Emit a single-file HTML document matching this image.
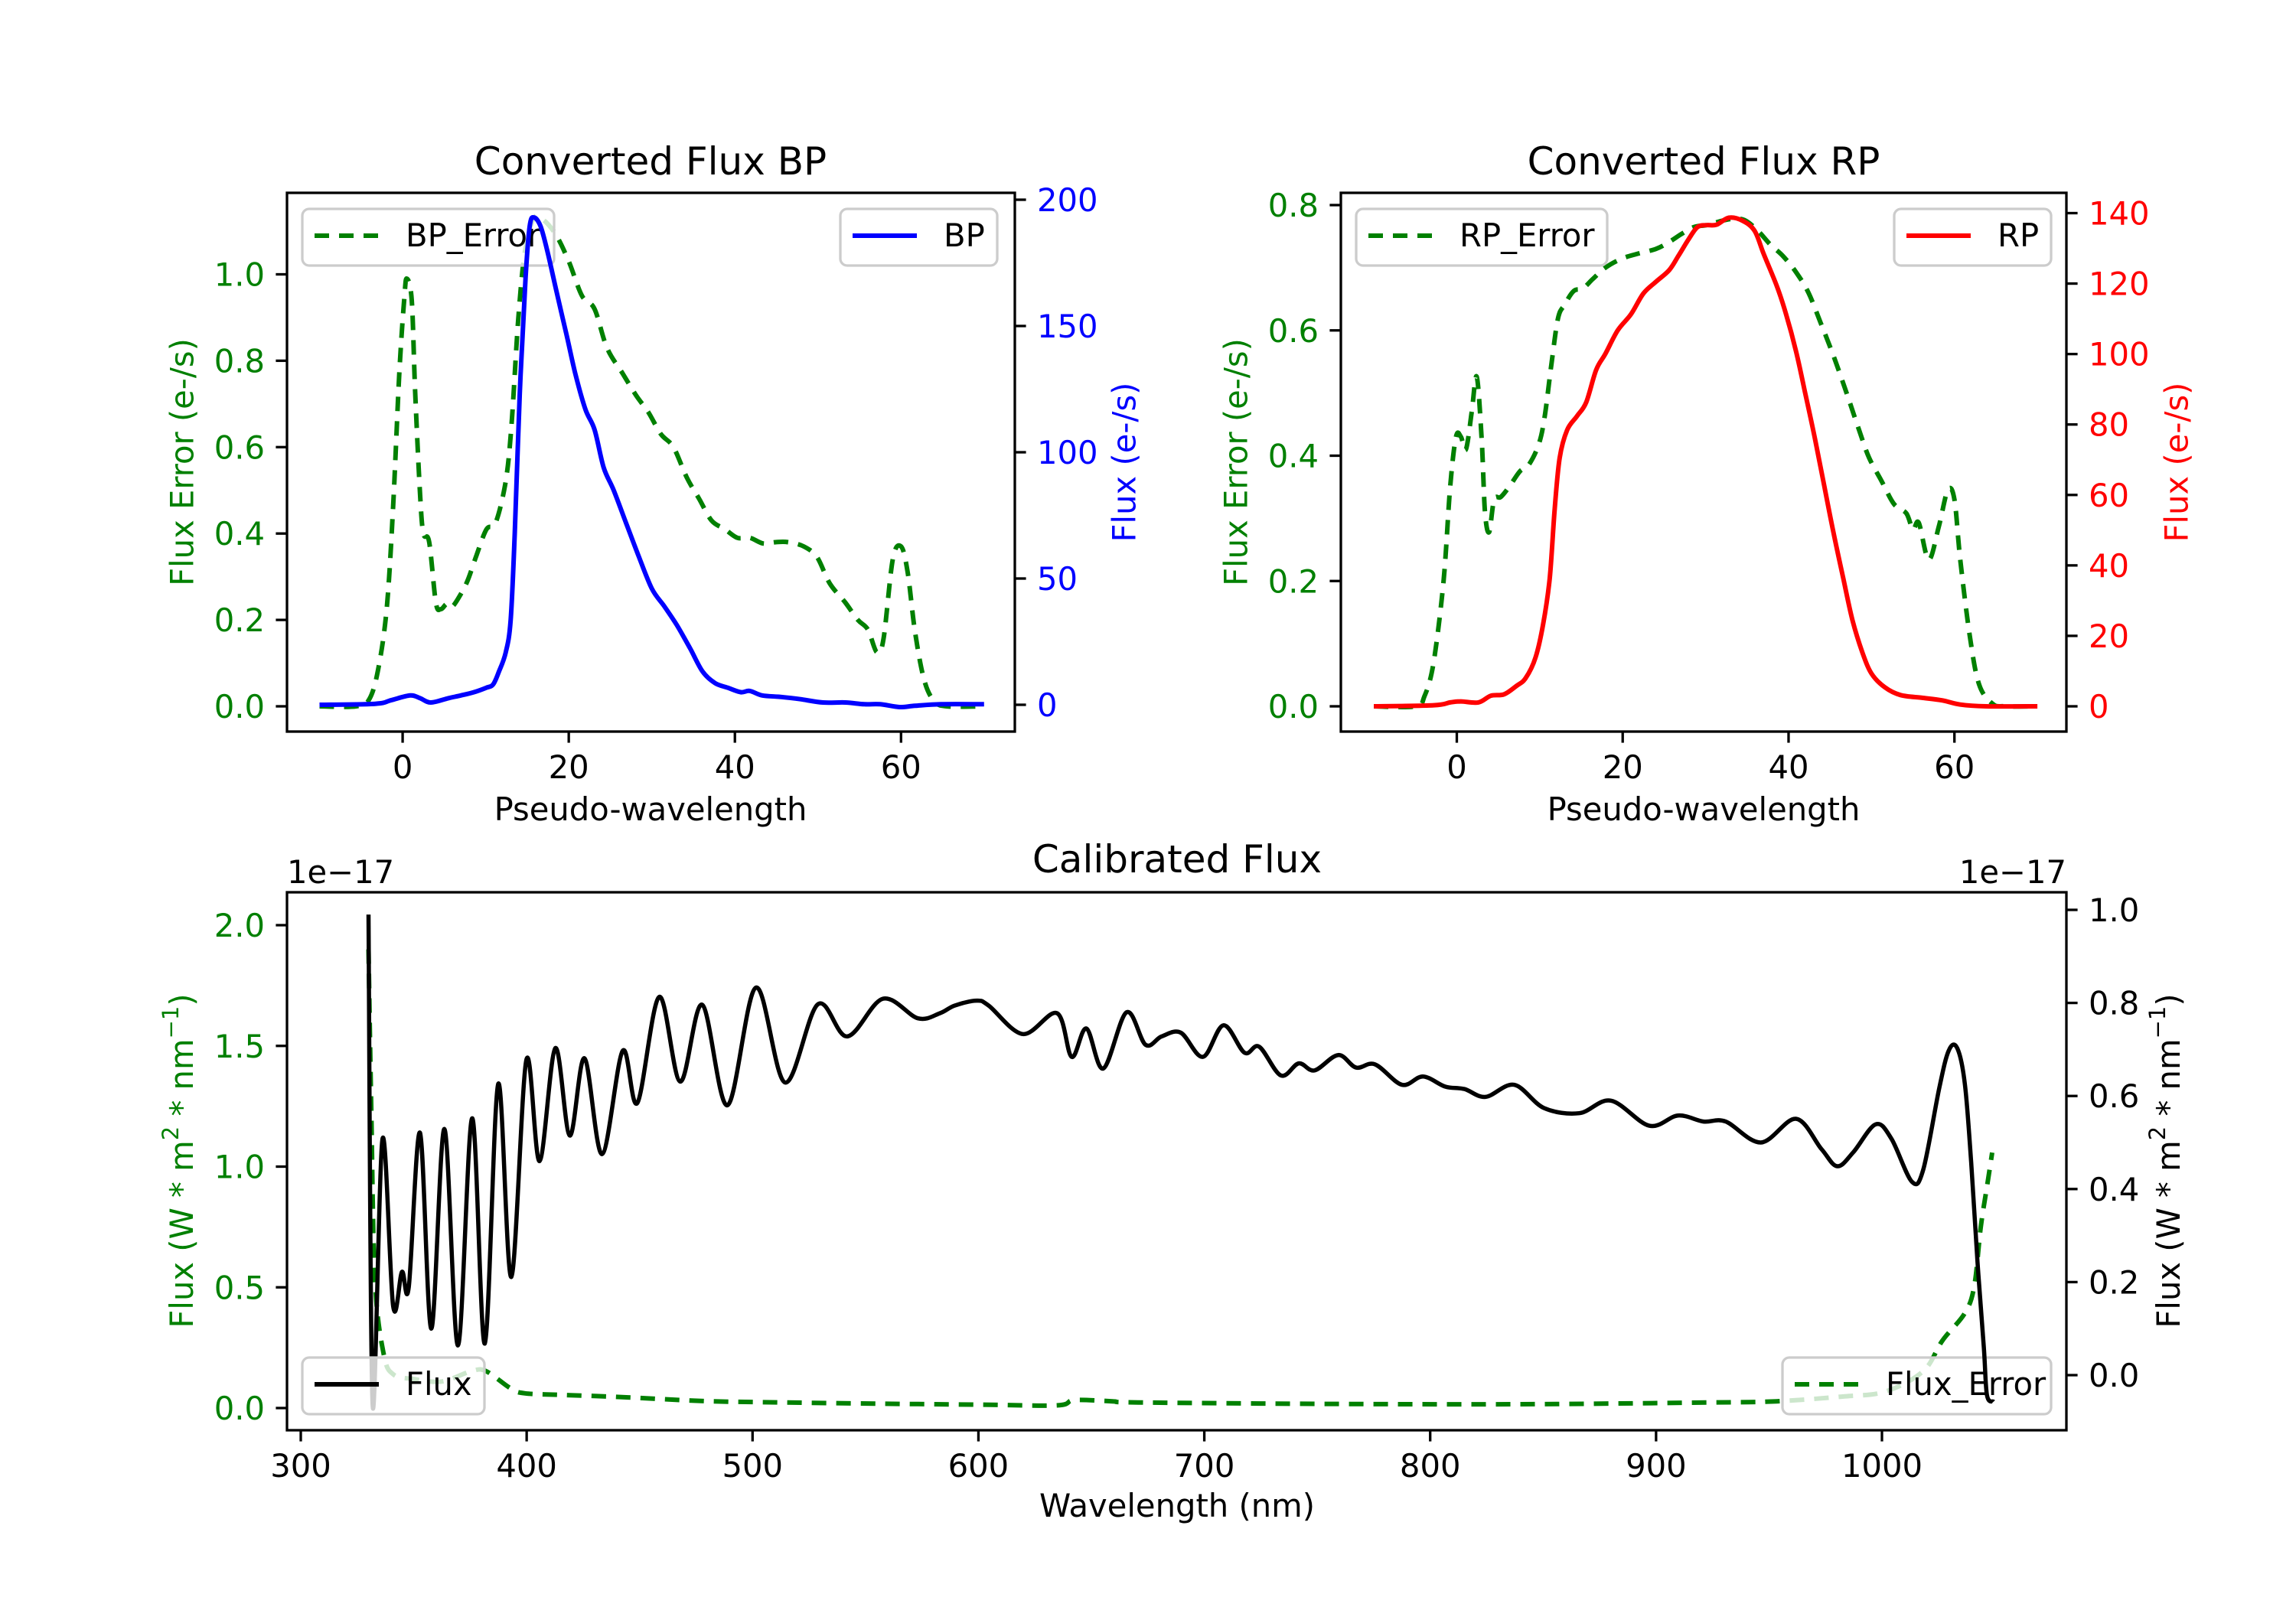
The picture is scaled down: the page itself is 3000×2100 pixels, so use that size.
<!DOCTYPE html>
<html><head><meta charset="utf-8">
<style>
html,body{margin:0;padding:0;background:#fff;}
svg{display:block;font-family:"DejaVu Sans","Liberation Sans",sans-serif;}
</style></head>
<body>
<svg id="fig" width="3000" height="2100" viewBox="0 0 3000 2100" xmlns="http://www.w3.org/2000/svg">
<rect width="3000" height="2100" fill="#fff"/>
<defs>
<clipPath id="clipBP"><rect x="375" y="252" width="951" height="704"/></clipPath>
<clipPath id="clipRP"><rect x="1752" y="252" width="948" height="704"/></clipPath>
<clipPath id="clipCal"><rect x="375" y="1166" width="2325" height="703"/></clipPath>
</defs>
<g id="root"></g>
</svg>
<script>
// ---------- DATA ----------
const bpErrX = [-10,-5.6,-4,-2.9,-1.9,-1.15,-0.4,0.2,0.5,1.1,1.5,2.1,2.5,3.2,4.0,4.6,5.3,5.9,6.7,7.8,8.9,10.1,11.2,12.4,13.1,13.9,14.7,15.8,17.0,18.5,20.0,21.6,23.1,24.6,26.5,28.1,29.6,31.1,32.6,34.2,35.7,37.2,38.8,40.3,41.8,43.4,44.9,46.4,48.3,49.9,51.4,53.3,54.8,56,57.1,57.9,59,60,60.8,61.7,62.8,64,65.5,70];
const bpErrY = [0,0,0.017,0.09,0.23,0.46,0.77,0.945,0.99,0.94,0.73,0.49,0.40,0.38,0.24,0.225,0.237,0.23,0.25,0.29,0.35,0.41,0.425,0.52,0.65,0.89,1.05,1.13,1.125,1.09,1.03,0.95,0.92,0.83,0.77,0.72,0.68,0.63,0.60,0.53,0.48,0.43,0.41,0.39,0.39,0.377,0.38,0.38,0.37,0.345,0.285,0.24,0.20,0.178,0.125,0.157,0.34,0.37,0.31,0.17,0.06,0.012,0,0];
const bpX = [-10,-3.3,-1.4,0.9,2.1,3.4,5.5,7.0,8.6,10.1,10.9,11.6,12.4,13.0,13.5,14.1,14.8,15.3,15.8,16.6,17.4,18.5,19.7,20.8,22.0,23.1,24.2,25.4,26.9,28.4,30.0,31.5,33.0,34.6,36.1,37.6,39.1,40.7,41.8,43.3,45.6,47.9,50.6,53.3,55.6,57.5,59.8,61.7,64.8,70];
const bpY = [0,0.4,1.8,3.7,2.6,0.9,2.6,3.7,5.0,6.8,8.1,13.2,20.6,33.4,68,123,169,189.5,193,189.5,180,164,147,131,117,109,94,85,72,59,46,39,31.6,22.4,13.2,8.6,6.8,5.0,5.5,3.7,3.1,2.2,0.9,0.9,0.2,0.2,-0.9,-0.4,0.2,0.2];
const rpErrX = [-10,-5,-3.9,-2.8,-1.6,-0.8,-0.1,0.5,1.1,1.8,2.4,3.0,3.4,3.9,4.5,5.3,6.4,7.6,8.7,9.9,10.6,11.4,12.2,13.0,14.1,15.2,16.4,17.9,19.8,21.7,24.0,25.6,27.1,28.6,30.1,31.7,33.2,34.7,36.3,37.8,39.3,40.9,42.4,43.9,45.4,47.0,48.5,49.7,51.2,52.7,54.2,55.0,55.7,56.9,58.1,59.2,60.0,60.7,61.9,63.0,64.6,66.1,70];
const rpErrY = [0,0,0.016,0.07,0.20,0.35,0.43,0.43,0.41,0.47,0.526,0.426,0.31,0.278,0.33,0.334,0.352,0.375,0.386,0.419,0.463,0.545,0.619,0.641,0.663,0.667,0.682,0.70,0.714,0.722,0.73,0.741,0.754,0.765,0.768,0.774,0.778,0.776,0.759,0.737,0.719,0.693,0.66,0.611,0.56,0.50,0.441,0.397,0.36,0.323,0.308,0.282,0.293,0.234,0.286,0.345,0.33,0.234,0.108,0.034,0.004,0,0];
const rpX = [-10,-2.8,-0.8,0.5,2.6,4.1,5.7,7.2,8.3,9.5,10.4,11.2,11.8,12.4,13.3,14.5,15.6,16.8,17.9,19.4,21.0,22.5,24.0,25.6,26.7,27.9,29.0,30.1,31.3,32.8,34.4,35.9,37.0,38.6,39.7,40.9,42.0,43.2,44.3,45.4,46.6,47.7,48.9,50.0,51.6,53.5,56.2,58.5,60.7,63.8,70];
const rpY = [0,0.3,1.1,1.4,1.1,3.0,3.4,5.8,8.0,13.9,23.2,36.3,56,70.5,78.4,82.4,86.3,95.5,100,106.7,111.3,117.2,120.5,123.8,127.8,132.4,136,136.6,136.7,138.7,137.9,135,128.4,119.2,111.3,100.8,89,75.8,62.6,49.5,36.3,24.5,15.3,9.3,5.4,3.2,2.4,1.7,0.5,0,0];
const calWl = [330,331.8,336.2,340.9,344.8,347.8,352.8,357.8,363.6,369.6,375.9,381.5,387.4,393.2,399.9,405.7,412.7,419.1,425.6,433.4,442.5,449.0,458.7,468.0,477.7,488.9,501.5,514.4,528.9,541.9,557.7,573.2,583,589.4,599.2,604.6,619.7,634.8,641.3,647.8,655.3,665.6,674,681.1,689.6,699.4,708.5,717.8,724.3,733.9,741.8,748.8,759.3,767.2,775.6,787.5,796.8,806.7,815.1,824.5,837.2,850.4,866,880,897,909.7,921,930.8,946.4,961.9,973.2,980.2,987.3,997.2,1004.2,1013.2,1018.3,1025.4,1029.6,1033.3,1036.7,1039.5,1042.3,1045.1,1046.5,1049.4];
const calFlux = [0.99,-0.065,0.508,0.148,0.222,0.189,0.521,0.10,0.529,0.064,0.552,0.068,0.626,0.211,0.678,0.46,0.703,0.515,0.681,0.475,0.697,0.585,0.813,0.631,0.796,0.58,0.833,0.629,0.797,0.728,0.809,0.767,0.778,0.794,0.805,0.794,0.733,0.778,0.684,0.745,0.659,0.78,0.71,0.728,0.736,0.684,0.752,0.693,0.706,0.644,0.67,0.655,0.688,0.661,0.668,0.624,0.642,0.62,0.615,0.598,0.624,0.574,0.563,0.59,0.536,0.558,0.545,0.545,0.50,0.551,0.486,0.449,0.479,0.539,0.508,0.416,0.442,0.618,0.698,0.703,0.626,0.457,0.244,0.06,-0.043,-0.057];
const errWl = [330,331.2,332.8,336.7,341,350,362.5,375.5,382,392.8,399.3,416.6,438.3,460,481.6,514,557,601,634.8,642.4,659.3,671,756,840.5,925,953.4,981.6,1001.4,1018.3,1026.8,1036.7,1040.9,1043.7,1046.5,1048.8];
const errFlux = [1.9,1.24,0.535,0.224,0.139,0.12,0.11,0.153,0.153,0.082,0.061,0.054,0.047,0.037,0.028,0.023,0.018,0.014,0.011,0.033,0.028,0.023,0.017,0.016,0.023,0.028,0.047,0.068,0.153,0.28,0.393,0.507,0.747,0.917,1.058];
const bpXTicks = [0,20,40,60];
const bpLTicks = [0.0,0.2,0.4,0.6,0.8,1.0];
const bpRTicks = [0,50,100,150,200];
const rpXTicks = [0,20,40,60];
const rpLTicks = [0.0,0.2,0.4,0.6,0.8];
const rpRTicks = [0,20,40,60,80,100,120,140];
const calXTicks = [300,400,500,600,700,800,900,1000];
const calLTicks = [0.0,0.5,1.0,1.5,2.0];
const calRTicks = [0.0,0.2,0.4,0.6,0.8,1.0];

// ---------- HELPERS ----------
const NS = 'http://www.w3.org/2000/svg';
const root = document.getElementById('root');
function el(tag, attrs, parent, text){
  const e = document.createElementNS(NS, tag);
  for (const k in attrs) e.setAttribute(k, attrs[k]);
  if (text !== undefined) e.textContent = text;
  (parent || root).appendChild(e);
  return e;
}
function lin(d0,d1,p0,p1){ return v => p0 + (v-d0)*(p1-p0)/(d1-d0); }
// Catmull-Rom smoothed path
function pathD(xs, ys, sx, sy){
  const P = xs.map((x,i)=>[sx(x), sy(ys[i])]);
  let d = 'M' + P[0][0].toFixed(1) + ',' + P[0][1].toFixed(1);
  for (let i=0;i<P.length-1;i++){
    const p0 = P[Math.max(i-1,0)], p1 = P[i], p2 = P[i+1], p3 = P[Math.min(i+2,P.length-1)];
    const c1x = p1[0] + (p2[0]-p0[0])/6, c1y = p1[1] + (p2[1]-p0[1])/6;
    const c2x = p2[0] - (p3[0]-p1[0])/6, c2y = p2[1] - (p3[1]-p1[1])/6;
    d += 'C' + c1x.toFixed(1)+','+c1y.toFixed(1)+' '+c2x.toFixed(1)+','+c2y.toFixed(1)+' '+p2[0].toFixed(1)+','+p2[1].toFixed(1);
  }
  return d;
}
const FS = 41.7;
function fmt(v, dec){ return v.toFixed(dec); }

function drawAxes(cfg){
  const g = el('g', {});
  
  
  const {L,R,T,B} = cfg;
  const lp = el('path', {d: pathD(cfg.lx, cfg.ly, cfg.sx, cfg.syL), fill:'none', stroke:cfg.lcol, 'stroke-width':6, 'stroke-dasharray':'19 13', 'clip-path':'url(#'+cfg.clip+')', 'stroke-linejoin':'round'}, g);
  
  
  drawLegend(g, cfg.leg1);
  const rp = el('path', {d: pathD(cfg.rx, cfg.ry, cfg.sx, cfg.syR), fill:'none', stroke:cfg.rcol, 'stroke-width':cfg.rw||6, 'clip-path':'url(#'+cfg.clip+')', 'stroke-linejoin':'round'}, g);
  
  
  drawLegend(g, cfg.leg2);
  const sp = el('rect', {x:L, y:T, width:R-L, height:B-T, fill:'none', stroke:'#000', 'stroke-width':3.3}, g);
  
  
  cfg.xt.forEach(v => {
    const x = cfg.sx(v);
    el('line', {x1:x, x2:x, y1:B, y2:B+14.6, stroke:'#000', 'stroke-width':3.3}, g);
    const t = el('text', {x:x, y:B+61, 'font-size':FS, 'text-anchor':'middle', fill:'#000'}, g, String(v));
    
    
  });
  cfg.ylt.forEach(v => {
    const y = cfg.syL(v);
    el('line', {x1:L-14.6, x2:L, y1:y, y2:y, stroke:'#000', 'stroke-width':3.3}, g);
    const t = el('text', {x:L-29, y:y+15, 'font-size':FS, 'text-anchor':'end', fill:cfg.lcol}, g, fmt(v, cfg.ldec));
    
    
  });
  cfg.yrt.forEach(v => {
    const y = cfg.syR(v);
    el('line', {x1:R, x2:R+14.6, y1:y, y2:y, stroke:'#000', 'stroke-width':3.3}, g);
    const t = el('text', {x:R+29, y:y+15, 'font-size':FS, 'text-anchor':'start', fill:cfg.rtcol}, g, fmt(v, cfg.rdec));
    
    
  });
  return g;
}
function drawLegend(g, lg){
  const lgG = el('g', {}, g);
  
  
  el('rect', {x:lg.x, y:lg.y, width:lg.w, height:74, rx:9, fill:'#fff', 'fill-opacity':0.8, stroke:'#cccccc', 'stroke-width':3.3}, lgG);
  const cy = lg.y + 35;
  const ln = el('line', {x1:lg.x+16, x2:lg.x+100, y1:cy, y2:cy, stroke:lg.col, 'stroke-width':6}, lgG);
  if (lg.dash) ln.setAttribute('stroke-dasharray', '19 13');
  el('text', {x:lg.x+135, y:cy+14, 'font-size':FS, fill:'#000'}, lgG, lg.label);
}
function label(txt, x, y, opts){
  return el('text', Object.assign({x:x, y:y, 'font-size':FS, 'text-anchor':'middle', fill:'#000'}, opts||{}), root, txt);
}

drawAxes({name:'bp-chart', L:375, R:1326, T:252, B:956, clip:'clipBP',
  sx:lin(-13.92, 73.7, 375, 1326), syL:lin(0,1,923,358.5), syR:lin(0,200,921,261),
  lx:bpErrX, ly:bpErrY, rx:bpX, ry:bpY, lcol:'#008000', rcol:'#0000ff', rtcol:'#0000ff',
  lname:'bp-error-line', rname:'bp-flux-line',
  xt:bpXTicks, ylt:bpLTicks, yrt:bpRTicks, ldec:1, rdec:0,
  leg1:{name:'bp-error-legend', x:395, y:273, w:329, col:'#008000', dash:true, label:'BP_Error'},
  leg2:{name:'bp-legend', x:1098, y:273, w:205, col:'#0000ff', dash:false, label:'BP'}
});
drawAxes({name:'rp-chart', L:1752, R:2700, T:252, B:956, clip:'clipRP',
  sx:lin(-13.98, 73.5, 1752, 2700), syL:lin(0,0.8,923,268), syR:lin(0,140,923,278.5),
  lx:rpErrX, ly:rpErrY, rx:rpX, ry:rpY, lcol:'#008000', rcol:'#ff0000', rtcol:'#ff0000',
  lname:'rp-error-line', rname:'rp-flux-line',
  xt:rpXTicks, ylt:rpLTicks, yrt:rpRTicks, ldec:1, rdec:0,
  leg1:{name:'rp-error-legend', x:1772, y:273, w:328, col:'#008000', dash:true, label:'RP_Error'},
  leg2:{name:'rp-legend', x:2475, y:273, w:205, col:'#ff0000', dash:false, label:'RP'}
});
drawAxes({name:'calibrated-chart', L:375, R:2700, T:1166, B:1869, clip:'clipCal',
  sx:lin(300,1000,393,2459), syL:lin(0,2,1840,1209), syR:lin(0,1,1797,1189),
  lx:errWl, ly:errFlux, rx:calWl, ry:calFlux, lcol:'#008000', rcol:'#000000', rtcol:'#000000', rw:5.5,
  lname:'flux-error-line', rname:'flux-line',
  xt:calXTicks, ylt:calLTicks, yrt:calRTicks, ldec:1, rdec:1,
  leg1:{name:'flux-error-legend', x:2329, y:1774, w:351, col:'#008000', dash:true, label:'Flux_Error'},
  leg2:{name:'flux-legend', x:395, y:1774, w:238, col:'#000000', dash:false, label:'Flux'}
});

let t;
t = label('Converted Flux BP', 850, 228, {'font-size':50});
 
t = label('Converted Flux RP', 2226, 228, {'font-size':50});
 
t = label('Calibrated Flux', 1538, 1140, {'font-size':50});
 
t = label('Pseudo-wavelength', 850, 1072);
 
t = label('Pseudo-wavelength', 2226, 1072);
 
t = label('Wavelength (nm)', 1538, 1982);
 
t = label('1e\u221217', 375, 1154, {'text-anchor':'start'});
 
t = label('1e\u221217', 2700, 1154, {'text-anchor':'end'});
 
function vlabel(txt, cx, cy, col, name){
  const e = el('text', {x:0, y:0, 'font-size':FS, 'text-anchor':'middle', 'dominant-baseline':'central', fill:col, transform:'translate('+cx+','+cy+') rotate(-90)'}, root, txt);
  
  
  return e;
}
vlabel('Flux Error (e-/s)', 238, 604, '#008000', 'bp-left-y-axis-title');
vlabel('Flux (e-/s)', 1469, 604, '#0000ff', 'bp-right-y-axis-title');
vlabel('Flux Error (e-/s)', 1615, 604, '#008000', 'rp-left-y-axis-title');
vlabel('Flux (e-/s)', 2844, 604, '#ff0000', 'rp-right-y-axis-title');
function unitLabel(cx, cy, col, name){
  const e = el('text', {x:0, y:0, 'font-size':FS, 'text-anchor':'middle', 'dominant-baseline':'central', fill:col, transform:'translate('+cx+','+cy+') rotate(-90)'}, root);
  
  
  el('tspan', {}, e, 'Flux (W * m');
  el('tspan', {'font-size':29, dy:-14}, e, '2');
  el('tspan', {dy:14}, e, ' * nm');
  el('tspan', {'font-size':29, dy:-14}, e, '\u22121');
  el('tspan', {dy:14}, e, ')');
}
unitLabel(237, 1517, '#008000', 'calibrated-left-y-axis-title');
unitLabel(2833, 1517, '#000000', 'calibrated-right-y-axis-title');
</script>
</body></html>
